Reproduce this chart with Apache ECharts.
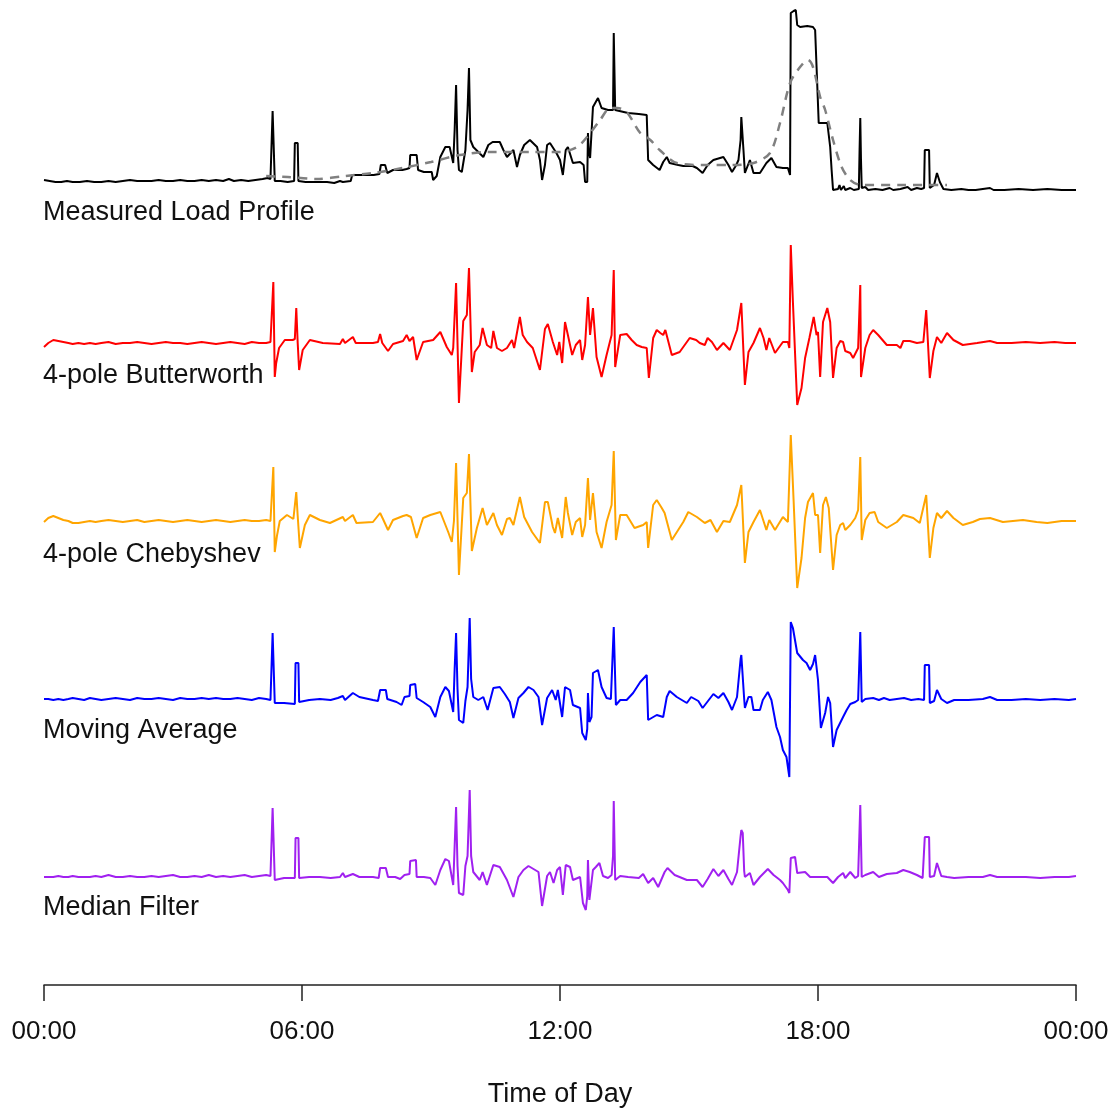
<!DOCTYPE html>
<html>
<head>
<meta charset="utf-8">
<script src="https://cdn.jsdelivr.net/npm/echarts@6/dist/echarts.min.js"></script>
<style>
  html, body { margin: 0; padding: 0; background: #ffffff; }
  #chart { width: 1114px; height: 1109px; }
</style>
</head>
<body>
<div id="chart"></div>
<script>
// Time of day in minutes after midnight, signal in arbitrary units (0 = trace baseline)
const seriesNames = ['Measured Load Profile', '4-pole Butterworth', '4-pole Chebyshev', 'Moving Average', 'Median Filter'];
const seriesColors = ['#000000', '#ff0000', '#ffa500', '#0000ff', '#a020f0'];
const tickLabels = ['00:00', '06:00', '12:00', '18:00', '00:00'];

const measuredLoad = [
  [0,10],[8,9],[16,8],[24,8],[32,9],[40,8],[50,8],[60,9],[70,8],[80,8],[90,9],[100,8],[110,9],[120,10],[130,9],[140,9],[150,9],[160,10],[170,9],[180,9],[190,10],[200,9],[210,9],[220,10],[230,9],[240,10],[250,9],[258,11],[265,9],[275,10],[285,9],[295,10],[305,11],[312,12],[316,11],
  [318,10],[319,79],[321,79],[322,9],[330,9],[340,8],[349,9],[350,47],[354,47],[355,9],[365,8],[380,8],[395,8],[405,7],[413,9],[415,11],[417,8],[428,9],[430,15],[445,15],[460,15],[468,16],[470,25],[476,25],[479,17],[487,20],[500,20],[506,21],[510,22],[511,35],[520,35],[522,20],[530,18],[541,18],[543,10],[548,14],[553,33],[560,43],[566,43],[571,27],[573,60],[575,105],[577,40],[579,20],[583,18],[588,40],[591,80],[593,122],[595,50],[599,43],[606,38],[613,33],[620,45],[626,48],[636,48],[641,40],[646,33],[655,40],[660,23],[664,35],[670,45],[678,50],[688,43],[692,30],[695,10],[699,25],[702,45],[706,47],[715,37],[720,30],[724,15],[728,40],[731,43],[738,27],[748,28],[753,25],[755,8],[758,8],[759,57],[760,40],[762,32],[766,83],[773,92],[778,82],[787,80],[794,80],[795,157],[797,80],[799,78],[815,77],[830,76],[841,75],[843,30],[850,25],[859,20],[864,28],[869,33],[873,27],[885,25],[892,24],[905,24],[911,22],[919,17],[926,25],[934,30],[948,33],[955,25],[960,18],[966,25],[969,30],[972,50],[973,73],[975,73],[976,40],[978,17],[985,30],[990,17],[999,17],[1008,27],[1015,32],[1022,23],[1031,22],[1038,22],[1041,15],
  [1042,177],[1046,179],[1049,180],[1051,165],[1055,163],[1065,164],[1073,163],[1076,160],[1078,123],[1081,67],[1093,67],[1095,55],[1097,43],[1099,20],[1101,0],
  [1108,1],[1110,5],[1112,0],[1116,4],[1118,0],[1125,2],[1130,0],[1137,1],[1138,40],[1139,72],[1140,30],[1141,2],[1146,3],[1150,0],[1160,1],[1170,0],[1180,2],[1185,0],[1195,1],[1205,3],[1210,0],[1218,2],[1224,1],[1228,2],[1229,40],[1235,40],[1236,2],[1242,5],[1246,17],[1250,8],[1255,1],[1266,0],[1280,1],[1290,0],[1300,0],[1310,1],[1320,2],[1325,0],[1340,0],[1360,1],[1380,0],[1400,1],[1420,0],[1440,0]
];

const smoothedLoad = [
  [310,14],[340,13],[380,11],[420,14],[460,17],[500,22],[540,28],[580,35],[620,38],[680,38],[720,38],[744,43],[760,55],[776,70],[790,82],[800,82],[813,78],[832,57],[846,50],[859,40],[883,27],[920,25],[960,25],[990,27],[1013,37],[1027,67],[1041,107],[1055,123],[1066,130],[1073,123],[1083,93],[1090,80],[1101,50],[1113,23],[1125,10],[1140,5],[1200,5],[1260,5]
];

const butterworth = [
  [0,-4],[6,0],[13,3],[20,2],[27,1],[34,0],[40,-1],[48,0],[56,-1],[64,0],[72,-1],[80,0],[90,1],[100,-1],[110,0],[120,0],[130,1],[140,0],[150,-1],[160,0],[170,1],[180,0],[190,0],[200,-1],[210,0],[220,1],[230,0],[240,-1],[250,0],[260,1],[270,0],[280,-1],[290,1],[300,0],[310,0],[316,1],
  [318,0],[320,61],[322,-34],[324,-20],[328,-5],[336,3],[347,3],[350,4],[352,35],[354,0],[356,-27],[361,-7],[371,3],[389,0],[413,-1],[417,4],[420,0],[431,6],[435,0],[459,0],[466,1],[469,9],[472,0],[480,-8],[487,-1],[501,2],[506,8],[510,2],[515,6],[520,-17],[529,1],[543,3],[553,11],[562,-4],[569,-12],[571,-5],[575,60],[579,-60],[585,22],[590,28],[593,75],[597,-29],[601,-9],[608,-2],[612,15],[618,-2],[624,-5],[627,12],[632,-5],[639,-8],[646,-5],[653,3],[656,-5],[664,26],[668,8],[674,1],[682,-5],[692,-27],[699,14],[703,19],[710,1],[716,-12],[719,1],[723,-20],[727,21],[731,8],[737,-12],[742,-2],[748,3],[751,-17],[755,-2],[759,46],[762,8],[766,35],[771,-14],[778,-34],[785,-12],[792,8],[795,73],[797,-24],[804,8],[813,9],[820,3],[827,-2],[834,-4],[841,-5],[844,-35],[850,5],[855,13],[860,10],[864,8],[867,13],[876,-12],[887,-9],[897,1],[901,5],[910,3],[915,0],[922,-2],[926,5],[932,1],[939,-7],[948,0],[957,-7],[967,13],[973,40],[978,-42],[983,-9],[990,0],[999,15],[1004,5],[1008,-7],[1012,5],[1020,-10],[1031,1],[1038,1],[1040,-5],
  [1042,98],[1045,41],[1051,-62],[1057,-45],[1062,-15],[1068,5],[1074,26],[1078,8],[1080,11],[1083,-34],[1087,21],[1093,35],[1097,21],[1101,-35],[1106,-5],[1111,2],[1115,1],[1118,-8],[1125,-10],[1129,-15],[1136,-5],[1139,58],[1140,-34],[1146,-5],[1152,8],[1157,13],[1164,8],[1176,-2],[1190,-2],[1195,-5],[1199,2],[1208,2],[1218,0],[1227,1],[1231,33],[1236,-35],[1241,-8],[1246,6],[1252,0],[1260,10],[1269,3],[1282,-2],[1302,0],[1320,2],[1330,0],[1350,0],[1370,1],[1390,0],[1410,1],[1425,0],[1440,0]
];

const chebyshev = [
  [0,-1],[6,3],[13,5],[20,3],[27,1],[34,0],[40,-2],[48,-2],[56,-1],[64,0],[72,-1],[80,0],[90,1],[100,0],[110,-1],[120,0],[130,1],[140,-1],[150,0],[160,1],[170,0],[180,-1],[190,0],[200,1],[210,0],[220,-1],[230,0],[240,1],[250,0],[260,-1],[270,0],[280,1],[290,0],[300,0],[310,1],[316,0],
  [318,0],[320,54],[322,-31],[325,-15],[329,0],[339,6],[348,2],[352,29],[354,5],[357,-27],[364,-4],[371,6],[385,1],[399,-2],[417,4],[420,0],[431,6],[436,-2],[459,-1],[469,8],[473,2],[480,-9],[487,1],[501,5],[506,6],[512,4],[520,-17],[529,3],[539,6],[553,9],[564,-11],[569,-21],[572,0],[575,58],[579,-54],[585,23],[590,28],[593,67],[597,-30],[604,-7],[612,13],[618,-4],[627,8],[632,-4],[639,-14],[646,2],[650,3],[655,-4],[664,24],[670,4],[681,-11],[692,-22],[699,19],[703,19],[710,-6],[713,-12],[717,3],[723,-17],[728,24],[731,8],[737,-14],[742,-1],[748,3],[751,-16],[755,-4],[759,43],[762,1],[766,28],[771,-11],[778,-27],[785,-1],[792,16],[795,70],[798,-19],[804,6],[813,6],[824,-7],[836,-4],[841,-1],[843,-27],[850,16],[855,21],[862,13],[866,8],[876,-19],[892,-1],[899,9],[911,4],[922,-2],[930,1],[939,-11],[948,0],[957,-1],[967,16],[973,36],[978,-42],[983,-11],[990,-1],[999,11],[1008,-9],[1012,1],[1020,-9],[1031,4],[1038,-1],[1040,0],
  [1042,86],[1046,20],[1051,-67],[1057,-37],[1062,3],[1066,19],[1073,28],[1076,6],[1080,6],[1083,-32],[1087,16],[1091,24],[1095,13],[1101,-49],[1106,-14],[1111,-4],[1115,-2],[1118,-9],[1125,-4],[1132,3],[1136,11],[1139,64],[1141,-19],[1146,1],[1152,8],[1159,9],[1164,-1],[1176,-7],[1190,-1],[1199,6],[1213,3],[1222,-2],[1231,26],[1236,-37],[1241,-7],[1246,8],[1252,3],[1260,10],[1269,3],[1282,-4],[1296,-1],[1306,2],[1320,3],[1338,-1],[1366,1],[1385,-1],[1400,-2],[1420,0],[1440,0]
];

const movingAverage = [
  [0,0],[6,0],[13,-1],[20,0],[27,-1],[34,0],[40,1],[48,0],[56,-1],[64,1],[72,0],[80,-1],[90,0],[100,1],[110,0],[120,-1],[130,1],[140,0],[150,0],[160,1],[170,0],[180,-1],[190,1],[200,0],[210,0],[220,1],[230,0],[240,1],[250,0],[260,0],[270,1],[280,0],[290,-1],[300,1],[310,0],[316,-1],
  [318,-3],[319,66],[321,66],[322,-4],[335,-4],[350,-5],[351,36],[355,36],[356,-3],[370,-1],[385,0],[400,-1],[410,1],[417,3],[420,-1],[431,6],[440,2],[459,-1],[466,-2],[469,9],[477,9],[479,0],[492,-3],[499,-6],[503,2],[510,3],[511,14],[518,15],[520,1],[529,-3],[539,-8],[546,-18],[553,2],[560,12],[565,8],[571,-13],[573,30],[575,66],[577,10],[579,-21],[585,-24],[588,-2],[591,12],[594,81],[596,20],[599,2],[606,-1],[613,2],[619,-11],[627,11],[636,12],[643,5],[650,-3],[655,-19],[662,1],[669,6],[676,12],[683,9],[690,2],[695,-26],[702,1],[709,9],[714,-1],[717,9],[723,-18],[727,12],[734,9],[738,-6],[748,-9],[751,-34],[756,-41],[758,-30],[759,6],[761,-23],[764,-18],[766,26],[773,29],[778,12],[785,1],[791,0],[795,72],[798,-6],[804,-1],[813,-1],[822,6],[832,17],[841,24],[843,-21],[855,-16],[864,-18],[869,2],[873,8],[883,2],[897,-4],[903,2],[913,-2],[919,-9],[934,5],[941,1],[948,6],[955,-3],[960,-11],[967,2],[972,40],[973,44],[975,43],[977,0],[978,-9],[983,2],[987,2],[990,-11],[999,-11],[1003,-1],[1010,7],[1015,-1],[1022,-28],[1027,-38],[1031,-51],[1036,-58],[1040,-78],
  [1042,77],[1045,71],[1051,46],[1059,39],[1064,36],[1069,29],[1073,35],[1076,44],[1080,19],[1084,-29],[1090,-14],[1094,2],[1097,-4],[1101,-48],[1106,-31],[1115,-18],[1120,-11],[1125,-5],[1132,-3],[1136,-1],[1139,67],[1141,-3],[1146,0],[1157,1],[1165,-1],[1172,1],[1180,-1],[1190,0],[1200,1],[1210,-1],[1220,0],[1228,-1],[1229,34],[1235,34],[1236,-4],[1242,-2],[1246,9],[1252,0],[1260,-4],[1270,-1],[1290,-1],[1310,0],[1320,2],[1330,-1],[1350,-1],[1370,0],[1390,-1],[1410,0],[1430,-1],[1440,0]
];

const medianFilter = [
  [0,-1],[6,-1],[13,-1],[20,0],[27,-1],[34,-1],[40,0],[48,-1],[56,-1],[64,-1],[72,0],[80,-1],[90,1],[100,-1],[110,-1],[120,0],[130,-1],[140,-1],[150,0],[160,-1],[170,0],[180,1],[190,-1],[200,-1],[210,0],[220,-1],[230,1],[240,-1],[250,0],[260,-1],[270,0],[280,1],[290,-1],[300,0],[310,1],[316,0],
  [318,-2],[319,68],[321,68],[322,-4],[335,-2],[350,-2],[351,38],[355,38],[356,-2],[370,-1],[385,-1],[400,-2],[413,-1],[417,3],[420,-1],[431,2],[440,-1],[459,-1],[467,-2],[469,8],[477,8],[480,-1],[490,-1],[497,-3],[503,1],[510,2],[511,15],[519,16],[520,-1],[530,-1],[539,-2],[546,-9],[553,6],[560,17],[565,15],[571,-9],[573,30],[575,69],[577,10],[579,-17],[585,-19],[588,10],[591,20],[594,86],[596,20],[599,4],[608,-4],[612,4],[618,-9],[627,11],[636,9],[646,-4],[655,-21],[662,-1],[669,6],[676,10],[683,7],[690,4],[695,-30],[702,0],[706,4],[711,-7],[716,6],[720,9],[724,-19],[728,11],[734,9],[738,-4],[748,-1],[752,-27],[756,-34],[758,-20],[759,16],[761,-24],[766,6],[770,9],[775,13],[780,0],[787,-2],[792,1],[794,20],[795,75],[797,-4],[804,0],[815,-1],[830,-2],[836,2],[843,-7],[850,-2],[857,-11],[866,4],[870,8],[880,1],[897,-4],[911,-4],[919,-11],[926,-3],[934,7],[941,0],[948,6],[955,-3],[960,-9],[967,4],[972,40],[973,46],[975,43],[977,5],[978,-1],[985,3],[990,-9],[999,-1],[1010,7],[1018,1],[1027,-4],[1031,-7],[1038,-14],[1040,-17],
  [1042,18],[1048,19],[1051,3],[1062,4],[1069,-1],[1080,-1],[1093,-1],[1101,-7],[1108,-1],[1115,3],[1118,-2],[1125,4],[1132,-2],[1136,0],[1139,71],[1141,-1],[1146,1],[1157,4],[1165,-1],[1176,2],[1190,3],[1199,6],[1208,4],[1218,1],[1226,-2],[1229,39],[1235,39],[1236,-1],[1242,0],[1246,13],[1252,0],[1260,-1],[1270,-2],[1290,-1],[1310,-1],[1320,1],[1330,-1],[1350,-1],[1370,-1],[1390,-2],[1410,-1],[1430,-1],[1440,0]
];

const traces = [measuredLoad, butterworth, chebyshev, movingAverage, medianFilter];

// One strip per trace; each strip's value axis maps one unit to one pixel
const strips = [
  { top: 0,   height: 200, min: -10,  max: 190, labelY: 213 },
  { top: 233, height: 200, min: -90,  max: 110, labelY: 376 },
  { top: 411, height: 200, min: -90,  max: 110, labelY: 555 },
  { top: 589, height: 200, min: -90,  max: 110, labelY: 731 },
  { top: 766, height: 219, min: -109, max: 110, labelY: 908 }
];

const fontFamily = '"Liberation Sans", Arial, sans-serif';
const last = strips.length - 1;

const option = {
  backgroundColor: '#ffffff',
  animation: false,
  grid: strips.map(s => ({ left: 44, right: 38, top: s.top, height: s.height, containLabel: false })),
  xAxis: strips.map((s, i) => ({
    type: 'value',
    gridIndex: i,
    min: 0,
    max: 1440,
    interval: 360,
    show: i === last,
    position: 'bottom',
    name: i === last ? 'Time of Day' : '',
    nameLocation: 'middle',
    nameGap: 96,
    nameTextStyle: { fontFamily, fontSize: 27, color: '#111111' },
    axisLine: { show: true, onZero: false, lineStyle: { color: '#222222', width: 1.5 } },
    axisTick: { show: true, length: 16, lineStyle: { color: '#222222', width: 1.5 } },
    axisLabel: {
      show: true,
      margin: 34,
      fontFamily,
      fontSize: 26,
      color: '#111111',
      showMinLabel: true,
      showMaxLabel: true,
      formatter: v => tickLabels[Math.round(v / 360)]
    },
    splitLine: { show: false }
  })),
  yAxis: strips.map((s, i) => ({
    type: 'value',
    gridIndex: i,
    min: s.min,
    max: s.max,
    show: false,
    splitLine: { show: false }
  })),
  series: [
    ...traces.map((d, i) => ({
      name: seriesNames[i],
      type: 'line',
      xAxisIndex: i,
      yAxisIndex: i,
      data: d,
      showSymbol: false,
      symbol: 'none',
      lineStyle: { color: seriesColors[i], width: 2 },
      z: 2
    })),
    {
      name: 'Smoothed load',
      type: 'line',
      xAxisIndex: 0,
      yAxisIndex: 0,
      data: smoothedLoad,
      smooth: 0.3,
      showSymbol: false,
      symbol: 'none',
      lineStyle: { color: '#808080', width: 2.5, type: [9, 7] },
      z: 3
    }
  ],
  graphic: strips.map((s, i) => ({
    type: 'text',
    x: 43,
    y: s.labelY,
    style: {
      text: seriesNames[i],
      font: '27px ' + fontFamily,
      fill: '#111111',
      verticalAlign: 'middle'
    }
  }))
};

const chart = echarts.init(document.getElementById('chart'));
chart.setOption(option);
</script>
</body>
</html>
